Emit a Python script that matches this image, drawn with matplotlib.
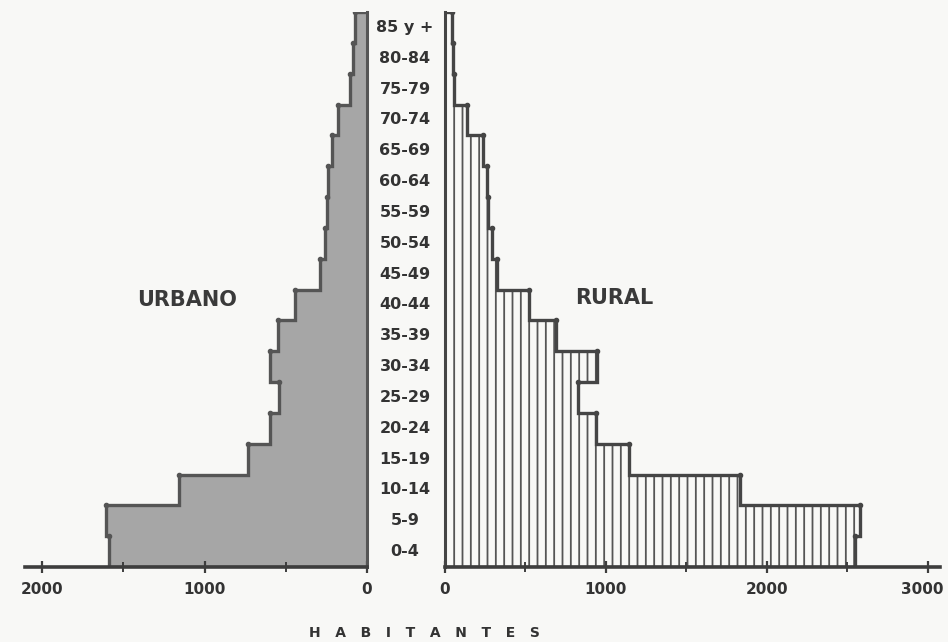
import numpy as np
import matplotlib
matplotlib.use('Agg')
import matplotlib.pyplot as plt
from matplotlib.transforms import blended_transform_factory, ScaledTranslation

# age groups, bottom to top
ages = ["0-4", "5-9", "10-14", "15-19", "20-24", "25-29", "30-34", "35-39",
        "40-44", "45-49", "50-54", "55-59", "60-64", "65-69", "70-74",
        "75-79", "80-84", "85 y +"]

# inhabitants
urbano = [1590, 1605, 1155, 735, 600, 540, 600, 550, 445, 290, 260, 245,
          240, 215, 180, 105, 85, 75]
rural = [2550, 2580, 1830, 1145, 940, 825, 945, 690, 520, 325, 290, 265,
         260, 235, 135, 55, 50, 45]

left_ticks = [2000, 1000, 0]
right_ticks = [0, 1000, 2000, 3000]

ink = '#3d3d3d'
bg = '#f8f8f6'
plt.rcParams['hatch.linewidth'] = 1.3

fig = plt.figure(figsize=(9.48, 6.42), dpi=100, facecolor=bg)
W, H = 948, 642
base, top = 567, 12
ax_l = fig.add_axes([25 / W, (H - base) / H, 342 / W, (base - top) / H])
ax_r = fig.add_axes([445 / W, (H - base) / H, 495 / W, (base - top) / H])

edges = np.arange(len(ages) + 1)

for ax in (ax_l, ax_r):
    ax.set_facecolor('none')
    ax.set_ylim(0, len(ages))
    ax.set_yticks([])
    for s in ['top', 'left', 'right']:
        ax.spines[s].set_visible(False)
    ax.spines['bottom'].set_linewidth(2.6)
    ax.spines['bottom'].set_color(ink)
    ax.tick_params(axis='x', which='major', direction='inout', length=9,
                   width=1.6, color=ink, labelsize=11, labelcolor='#333333',
                   pad=6)
    ax.tick_params(axis='x', which='minor', direction='inout', length=7,
                   width=1.4, color=ink)

# urbano (left, reversed)
ax_l.set_xlim(2105, 0)
ax_l.stairs(urbano, edges, orientation='horizontal', fill=True,
            facecolor='#a6a6a6', edgecolor='none')
ax_l.stairs(urbano, edges, orientation='horizontal', fill=False,
            color='#555555', linewidth=2.4)
ax_l.spines['right'].set_visible(True)
ax_l.spines['right'].set_bounds(0, len(ages))
ax_l.spines['right'].set_linewidth(2.2)
ax_l.spines['right'].set_color('#555555')
ax_l.plot(urbano, edges[1:], 'o', color='#555555', ms=3)
ax_l.set_xticks(left_ticks)
ax_l.set_xticks([1500, 500], minor=True)
ax_l.set_xticklabels([str(t) for t in left_ticks], fontweight='bold')

# rural (right)
ax_r.set_xlim(0, 3075)
ax_r.stairs(rural, edges, orientation='horizontal', fill=True,
            facecolor='none', edgecolor='#555555', linewidth=0, hatch='||')
ax_r.stairs(rural, edges, orientation='horizontal', fill=False,
            color='#454545', linewidth=2.4)
ax_r.spines['left'].set_visible(True)
ax_r.spines['left'].set_bounds(0, len(ages))
ax_r.spines['left'].set_linewidth(2.2)
ax_r.spines['left'].set_color('#454545')
ax_r.plot(rural, edges[1:], 'o', color='#454545', ms=3)
ax_r.set_xticks(right_ticks)
ax_r.set_xticks([500, 1500, 2500], minor=True)
ax_r.set_xticklabels([str(t) for t in right_ticks], fontweight='bold')
last = ax_r.get_xticklabels()[-1]
last.set_transform(last.get_transform() +
                   ScaledTranslation(-6 / 100, 0, fig.dpi_scale_trans))

# age labels in the middle gap
tr = blended_transform_factory(fig.transFigure, ax_r.transData)
for i, a in enumerate(ages):
    ax_r.text(405 / W, i + 0.5, a, transform=tr, ha='center', va='center',
              fontsize=11.5, fontweight='bold', color='#333333')

fig.text(187 / W, 1 - 300 / H, "URBANO", ha='center', va='center',
         fontsize=15, fontweight='bold', color='#3a3a3a')
fig.text(614 / W, 1 - 298 / H, "RURAL", ha='center', va='center',
         fontsize=15, fontweight='bold', color='#3a3a3a')
fig.text(424 / W, 1 - 633 / H, "H   A   B   I   T   A   N   T   E   S",
         ha='center', va='center', fontsize=10, fontweight='bold',
         color='#333333')

fig.savefig('out.png', dpi=100, facecolor=bg)
